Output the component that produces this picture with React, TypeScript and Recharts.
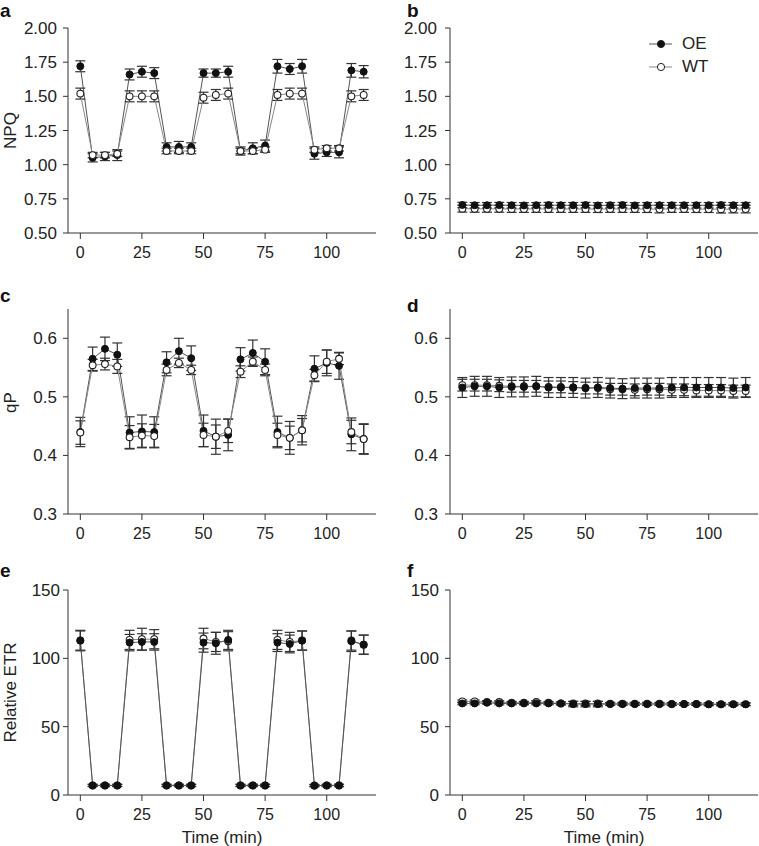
import { LineChart, Line, XAxis, YAxis, ErrorBar, Legend } from 'recharts'

const FONT = '"Liberation Sans", Arial, sans-serif'

// time points (min)
const time = [0, 5, 10, 15, 20, 25, 30, 35, 40, 45, 50, 55, 60, 65, 70, 75, 80, 85, 90, 95, 100, 105, 110, 115]
const xTicks = [0, 25, 50, 75, 100]

// a: NPQ, fluctuating light
const npqOE = [1.72, 1.05, 1.06, 1.07, 1.66, 1.68, 1.67, 1.13, 1.13, 1.13, 1.67, 1.67, 1.68, 1.1, 1.12, 1.14, 1.72, 1.7, 1.72, 1.08, 1.09, 1.09, 1.69, 1.68]
const npqOEErr = [0.04, 0.03, 0.03, 0.04, 0.04, 0.04, 0.04, 0.03, 0.04, 0.03, 0.03, 0.03, 0.04, 0.03, 0.04, 0.04, 0.05, 0.04, 0.05, 0.04, 0.03, 0.04, 0.05, 0.045]
const npqWT = [1.52, 1.07, 1.07, 1.08, 1.5, 1.5, 1.5, 1.1, 1.1, 1.1, 1.49, 1.51, 1.52, 1.1, 1.1, 1.11, 1.51, 1.52, 1.52, 1.11, 1.12, 1.12, 1.5, 1.51]
const npqWTErr = [0.04, 0.02, 0.02, 0.02, 0.04, 0.04, 0.04, 0.02, 0.02, 0.02, 0.04, 0.04, 0.04, 0.02, 0.02, 0.02, 0.04, 0.04, 0.04, 0.02, 0.02, 0.02, 0.04, 0.04]

// b: NPQ, constant light
const npqOE2 = [0.705, 0.703, 0.703, 0.704, 0.703, 0.702, 0.703, 0.704, 0.703, 0.703, 0.704, 0.702, 0.703, 0.704, 0.702, 0.703, 0.703, 0.703, 0.703, 0.703, 0.703, 0.704, 0.703, 0.703]
const npqOE2Err = [0.02, 0.02, 0.02, 0.02, 0.02, 0.02, 0.02, 0.02, 0.02, 0.02, 0.02, 0.02, 0.02, 0.02, 0.02, 0.02, 0.02, 0.02, 0.02, 0.02, 0.02, 0.02, 0.02, 0.02]
const npqWT2 = [0.678, 0.677, 0.677, 0.677, 0.676, 0.676, 0.676, 0.676, 0.676, 0.676, 0.676, 0.675, 0.676, 0.676, 0.676, 0.675, 0.675, 0.676, 0.676, 0.675, 0.675, 0.674, 0.675, 0.675]
const npqWT2Err = [0.025, 0.025, 0.025, 0.025, 0.025, 0.025, 0.025, 0.025, 0.025, 0.025, 0.025, 0.025, 0.025, 0.025, 0.025, 0.025, 0.028, 0.025, 0.025, 0.025, 0.025, 0.028, 0.028, 0.028]

// c: qP, fluctuating light
const qpOE = [0.44, 0.565, 0.582, 0.572, 0.439, 0.441, 0.44, 0.559, 0.578, 0.566, 0.442, 0.432, 0.435, 0.564, 0.575, 0.56, 0.44, 0.43, 0.443, 0.548, 0.558, 0.553, 0.436, 0.428]
const qpOEErr = [0.025, 0.02, 0.02, 0.02, 0.027, 0.028, 0.026, 0.018, 0.022, 0.021, 0.027, 0.03, 0.027, 0.02, 0.022, 0.022, 0.027, 0.028, 0.025, 0.022, 0.022, 0.023, 0.028, 0.026]
const qpWT = [0.439, 0.554, 0.556, 0.552, 0.431, 0.434, 0.433, 0.546, 0.558, 0.546, 0.435, 0.432, 0.442, 0.543, 0.56, 0.546, 0.435, 0.43, 0.443, 0.537, 0.56, 0.565, 0.44, 0.428]
const qpWTErr = [0.02, 0.01, 0.01, 0.012, 0.02, 0.02, 0.02, 0.01, 0.008, 0.008, 0.02, 0.02, 0.02, 0.01, 0.008, 0.01, 0.02, 0.02, 0.02, 0.01, 0.02, 0.01, 0.02, 0.025]

// d: qP, constant light
const qpOE2 = [0.516, 0.518, 0.518, 0.516, 0.517, 0.517, 0.518, 0.516, 0.516, 0.516, 0.515, 0.516, 0.515, 0.514, 0.515, 0.515, 0.515, 0.516, 0.516, 0.516, 0.516, 0.516, 0.515, 0.516]
const qpOE2Err = [0.017, 0.017, 0.017, 0.017, 0.017, 0.017, 0.017, 0.017, 0.017, 0.017, 0.017, 0.017, 0.017, 0.017, 0.017, 0.017, 0.017, 0.017, 0.017, 0.017, 0.017, 0.017, 0.017, 0.017]
const qpWT2 = [0.52, 0.52, 0.52, 0.519, 0.518, 0.518, 0.518, 0.517, 0.517, 0.516, 0.515, 0.515, 0.513, 0.513, 0.512, 0.513, 0.513, 0.512, 0.512, 0.511, 0.511, 0.511, 0.51, 0.51]
const qpWT2Err = [0.01, 0.01, 0.01, 0.01, 0.01, 0.01, 0.01, 0.01, 0.01, 0.01, 0.01, 0.01, 0.01, 0.01, 0.01, 0.01, 0.01, 0.01, 0.01, 0.01, 0.01, 0.01, 0.01, 0.01]

// e: relative ETR, fluctuating light
const etrOE = [113, 7, 7, 7, 111.5, 112, 112, 7, 7, 7, 111.5, 111, 113.5, 7, 7, 7, 111.5, 110.5, 113, 6.8, 7, 7, 112.5, 110]
const etrOEErr = [7.5, 0.8, 0.8, 0.8, 6, 6, 6, 0.8, 0.8, 0.8, 7, 8, 7, 0.8, 0.8, 0.8, 6.5, 6.5, 7, 0.8, 0.8, 0.8, 7.5, 7]
const etrWT = [113, 7, 7, 7, 113.5, 114, 114, 7, 7, 7, 114.5, 112, 112.5, 7, 7, 7, 113.5, 112, 113, 7, 7, 7, 113, 110]
const etrWTErr = [7, 0.8, 0.8, 0.8, 7, 8, 7, 0.8, 0.8, 0.8, 7.5, 7, 7, 0.8, 0.8, 0.8, 7, 7, 7, 0.8, 0.8, 0.8, 7, 7]

// f: relative ETR, constant light
const etrOE2 = [67, 67, 67.5, 67, 67, 67, 67, 67, 67, 66.5, 66.5, 66.5, 66.5, 66.5, 66.5, 66.5, 66.5, 66.5, 66.5, 66.5, 66.3, 66.3, 66.3, 66.3]
const etrOE2Err = [1, 1, 1, 1, 1, 1, 1, 1, 1, 2, 2, 2, 1, 1, 1, 1, 1, 1, 1, 1, 1, 1, 1, 1]
const etrWT2 = [68.5, 68.5, 68, 68, 67.5, 67.5, 68, 67.5, 67, 67, 67, 67, 66.8, 66.8, 66.8, 66.8, 66.8, 66.6, 66.6, 66.6, 66.5, 66.5, 66.5, 66.5]
const etrWT2Err = [1, 1, 1, 1, 1, 1, 1, 1, 1, 1.5, 1.5, 1.5, 1, 1, 1, 1, 1, 1, 1, 1, 1, 1, 1, 1]

const npqTicks = [0.5, 0.75, 1, 1.25, 1.5, 1.75, 2]
const qpTicks = [0.3, 0.4, 0.5, 0.6]
const etrTicks = [0, 50, 100, 150]

const seriesNames = ['OE', 'WT']

function rows(oe: number[], oeErr: number[], wt: number[], wtErr: number[]) {
  return time.map((t, i) => ({ t, oe: oe[i], oeErr: oeErr[i], wt: wt[i], wtErr: wtErr[i] }))
}

function LegendContent() {
  return (
    <div style={{ fontFamily: FONT, fontSize: 17, color: '#222' }}>
      {seriesNames.map((name) => (
        <div key={name} style={{ display: 'flex', alignItems: 'center', height: 23 }}>
          <svg width={26} height={12} style={{ marginRight: 8 }}>
            <line x1={1} y1={6} x2={24} y2={6} stroke={name === 'OE' ? '#555' : '#888'} strokeWidth={1} />
            <circle
              cx={13}
              cy={6}
              r={3.6}
              fill={name === 'OE' ? '#111' : '#fff'}
              stroke='#222'
              strokeWidth={1}
            />
          </svg>
          <span>{name}</span>
        </div>
      ))}
    </div>
  )
}

type PanelProps = {
  letter: string
  letterTop: number
  left: number
  top: number
  data: ReturnType<typeof rows>
  domain: [number, number]
  ticks: number[]
  digits: number
  yLabel?: string
  yLabelShift?: number
  xLabel?: string
  tickGap: number
  legend?: boolean
  wtOnTop?: boolean
}

function Panel(p: PanelProps) {
  const height = p.xLabel ? 284 : 281

  const wtLine = (
    <Line
      key='wt'
      name='WT'
      dataKey='wt'
      stroke='#888'
      strokeWidth={1}
      isAnimationActive={false}
      dot={{ r: 3.4, fill: '#fff', stroke: '#222', strokeWidth: 1.1 }}
      activeDot={false}
    >
      <ErrorBar dataKey='wtErr' direction='y' width={5} stroke='#333' strokeWidth={1.2} isAnimationActive={false} />
    </Line>
  )
  const oeLine = (
    <Line
      key='oe'
      name='OE'
      dataKey='oe'
      stroke='#555'
      strokeWidth={1}
      isAnimationActive={false}
      dot={{ r: 3.5, fill: '#111', stroke: '#111', strokeWidth: 1 }}
      activeDot={false}
    >
      <ErrorBar dataKey='oeErr' direction='y' width={5} stroke='#333' strokeWidth={1.2} isAnimationActive={false} />
    </Line>
  )

  return (
    <div style={{ position: 'absolute', left: p.left, top: p.top }}>
      <div
        style={{
          position: 'absolute',
          left: p.left === 0 ? 0 : 25,
          top: p.letterTop,
          fontFamily: FONT,
          fontWeight: 'bold',
          fontSize: 19,
          lineHeight: '15px',
          height: 15,
          color: '#111'
        }}
      >
        {p.letter}
      </div>
      <LineChart
        width={p.left === 0 ? 380 : 377}
        height={height}
        data={p.data}
        margin={{ top: 28, right: p.left === 0 ? 4 : 1, bottom: p.xLabel ? 6 : 3, left: 0 }}
      >
        <XAxis
          dataKey='t'
          type='number'
          domain={[-5, 120]}
          ticks={xTicks}
          height={45}
          stroke='#333'
          tickSize={6}
          tickMargin={8}
          tick={{ fontSize: 16, fill: '#222', fontFamily: FONT }}
          label={
            p.xLabel
              ? { value: p.xLabel, position: 'insideBottom', offset: -3, style: { fontSize: 17, fill: '#222', fontFamily: FONT } }
              : undefined
          }
        />
        <YAxis
          type='number'
          domain={p.domain}
          ticks={p.ticks}
          width={68}
          stroke='#333'
          tickSize={5}
          tickMargin={p.tickGap}
          tickFormatter={(v: number) => v.toFixed(p.digits)}
          tick={{ fontSize: 17, fill: '#222', fontFamily: FONT }}
          label={
            p.yLabel
              ? {
                  value: p.yLabel,
                  angle: -90,
                  position: 'insideLeft',
                  offset: 10,
                  dy: p.yLabelShift ?? 0,
                  style: { textAnchor: 'middle', fontSize: 17, fill: '#222', fontFamily: FONT }
                }
              : undefined
          }
        />
        {p.legend && (
          <Legend
            layout='vertical'
            align='center'
            verticalAlign='middle'
            content={<LegendContent />}
            wrapperStyle={{ left: 266, top: 32, width: 'auto' }}
          />
        )}
        {p.wtOnTop ? [oeLine, wtLine] : [wtLine, oeLine]}
      </LineChart>
    </div>
  )
}

export default function App() {
  return (
    <div style={{ position: 'absolute', left: 0, top: 0, width: 759, height: 846, background: '#fff' }}>
      <Panel letter='a' letterTop={3} left={0} top={0} data={rows(npqOE, npqOEErr, npqWT, npqWTErr)} domain={[0.5, 2]} ticks={npqTicks} digits={2} yLabel='NPQ' tickGap={6} wtOnTop />
      <Panel letter='b' letterTop={3} left={382} top={0} data={rows(npqOE2, npqOE2Err, npqWT2, npqWT2Err)} domain={[0.5, 2]} ticks={npqTicks} digits={2} tickGap={8} legend />
      <Panel letter='c' letterTop={7} left={0} top={281} data={rows(qpOE, qpOEErr, qpWT, qpWTErr)} domain={[0.3, 0.65]} ticks={qpTicks} digits={1} yLabel='qP' yLabelShift={-9} tickGap={6} wtOnTop />
      <Panel letter='d' letterTop={17} left={382} top={281} data={rows(qpOE2, qpOE2Err, qpWT2, qpWT2Err)} domain={[0.3, 0.65]} ticks={qpTicks} digits={1} tickGap={7} />
      <Panel letter='e' letterTop={1} left={0} top={562} data={rows(etrOE, etrOEErr, etrWT, etrWTErr)} domain={[0, 150]} ticks={etrTicks} digits={0} yLabel='Relative ETR' xLabel='Time (min)' tickGap={3} />
      <Panel letter='f' letterTop={1} left={382} top={562} data={rows(etrOE2, etrOE2Err, etrWT2, etrWT2Err)} domain={[0, 150]} ticks={etrTicks} digits={0} xLabel='Time (min)' tickGap={6} />
    </div>
  )
}
